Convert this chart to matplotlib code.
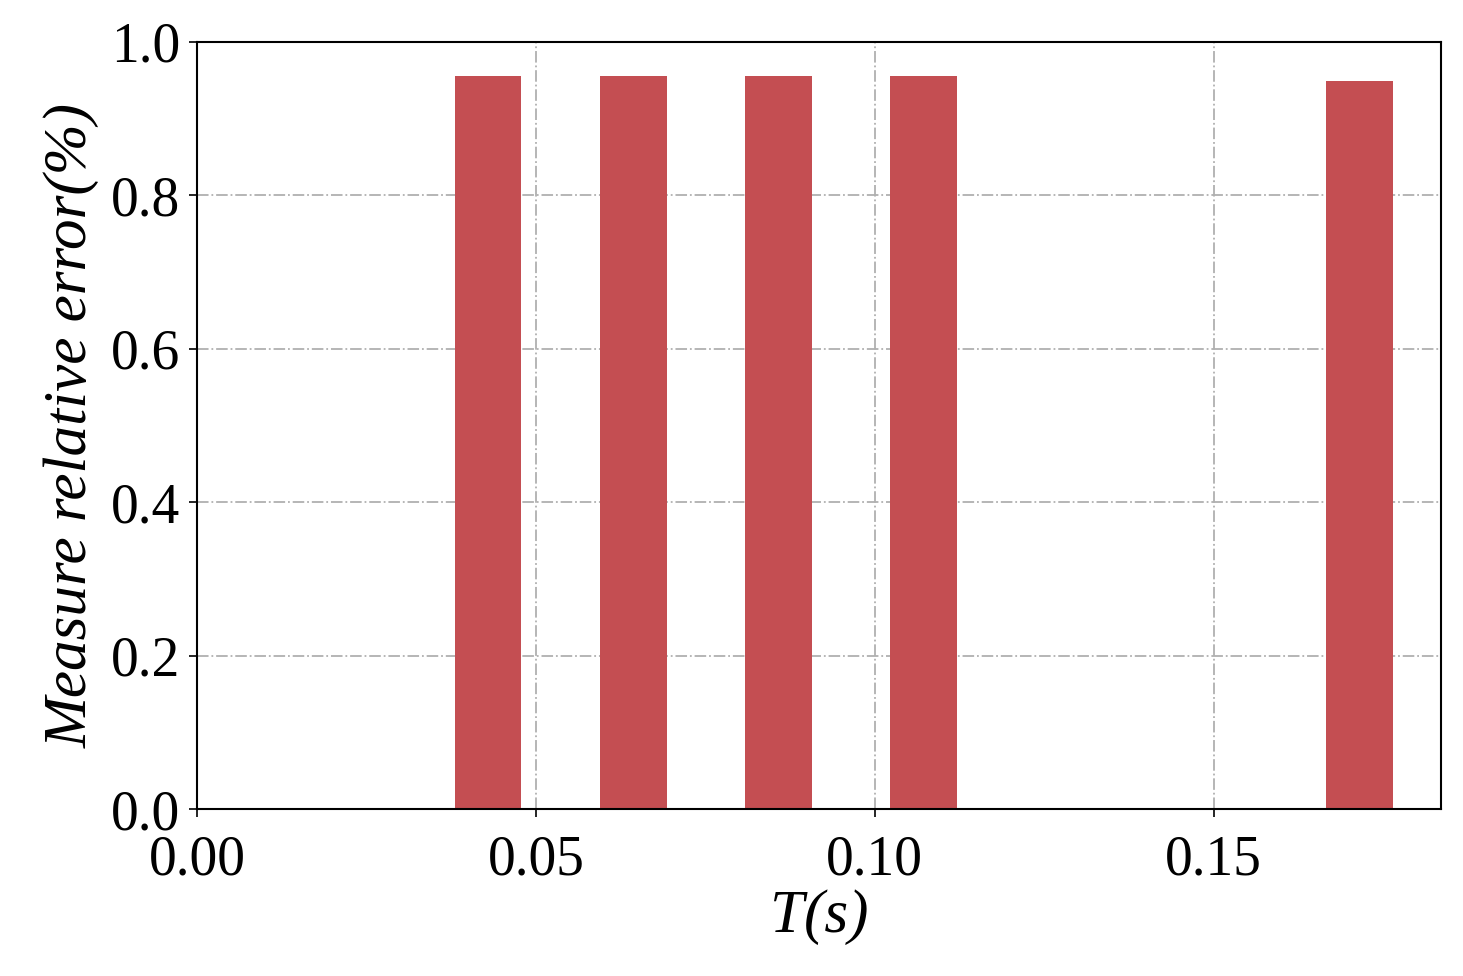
import numpy as np
import matplotlib.pyplot as plt

plt.rcParams['font.family'] = ['Liberation Serif', 'DejaVu Serif']

# bar centres (s) and relative errors (%)
t_centers = [0.0429, 0.0644, 0.0858, 0.1072, 0.1715]
rel_error = [0.956, 0.956, 0.956, 0.956, 0.949]
bar_width = 0.0098

fig = plt.figure(figsize=(14.63, 9.76), dpi=100)
ax = fig.add_axes([0.1347, 0.171, 0.850, 0.786])
ax.bar(t_centers, rel_error, width=bar_width, color='#c44e52', zorder=2)

ax.set_xlim(0, 0.1835)
ax.set_ylim(0, 1.0)
ax.set_xticks([0.0, 0.05, 0.10, 0.15])
ax.set_xticklabels(['0.00', '0.05', '0.10', '0.15'])
ax.set_yticks(np.arange(0, 1.01, 0.2))
ax.set_yticklabels(['0.0', '0.2', '0.4', '0.6', '0.8', '1.0'])
ax.tick_params(labelsize=40, length=6, width=1.2)
ax.tick_params(axis='x', pad=12)
ax.tick_params(axis='y', pad=6)
ax.grid(True, linestyle='-.', color='#b0b0b0', linewidth=1.3, zorder=0)
ax.set_axisbelow(True)
for s in ax.spines.values():
    s.set_linewidth(1.5)

ax.set_xlabel('T(s)', fontsize=44, style='italic', labelpad=2)
ax.set_ylabel('Measure relative error(%)', fontsize=44, style='italic', labelpad=8)

fig.savefig('out.png', dpi=100)
